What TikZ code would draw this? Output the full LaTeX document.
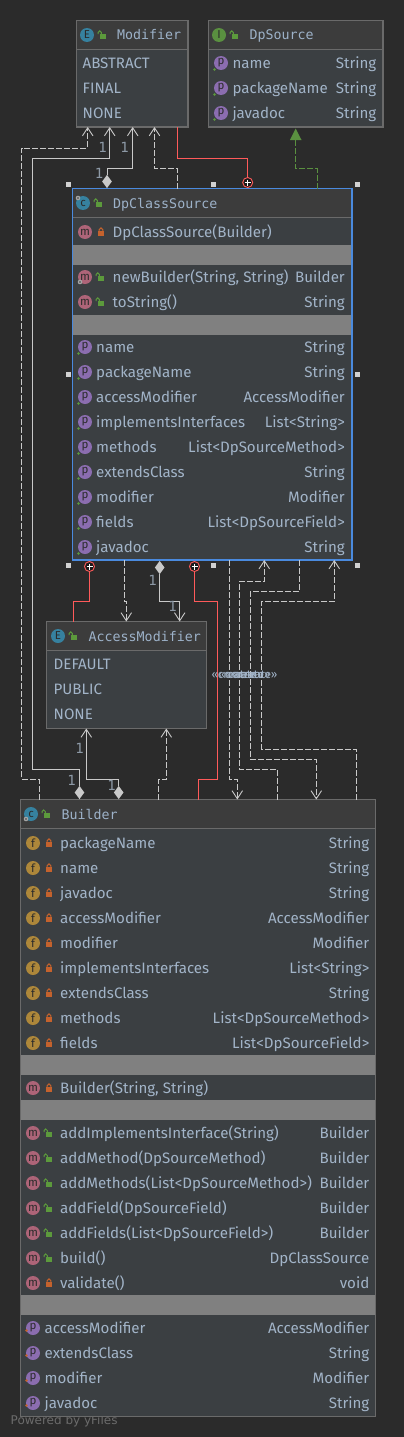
\documentclass[tikz,border=0pt]{standalone}
\usepackage{fontspec}
\setmainfont{Fira Sans}
\newfontfamily\hdfont{DejaVu Sans Mono}
\newfontfamily\powfont{DejaVu Sans}
\usetikzlibrary{arrows.meta,calc}
\definecolor{bgc}{HTML}{2B2B2B}
\definecolor{hdc}{HTML}{3C3C3C}
\definecolor{rowc}{HTML}{3B3F42}
\definecolor{sepc}{HTML}{808080}
\definecolor{brd}{HTML}{6A6A6A}
\definecolor{txtc}{HTML}{A2B4C8}
\definecolor{hdtxt}{HTML}{9DB2C9}
\definecolor{numc}{HTML}{8D99A6}
\definecolor{linec}{HTML}{C9C9C9}
\definecolor{redc}{HTML}{FF5A5A}
\definecolor{grnc}{HTML}{5A9040}
\definecolor{selc}{HTML}{4A8ADE}
\definecolor{tealc}{HTML}{36819F}
\definecolor{purc}{HTML}{8B6DB0}
\definecolor{pinkc}{HTML}{AD6478}
\definecolor{goldc}{HTML}{AD873A}
\definecolor{lockg}{HTML}{5C9A3C}
\definecolor{lockr}{HTML}{C4622D}
\newcounter{nn}
\tikzset{
  boxn/.style={draw=brd,line width=1.2pt,inner sep=0pt,outer sep=0pt,anchor=north west},
  selbox/.style={draw=selc,line width=1.2pt,inner sep=0pt,outer sep=0pt,anchor=north west},
  rowtxt/.style={inner sep=0pt,text=txtc,font=\fontsize{15.1}{16}\selectfont},
  hdtxtn/.style={inner sep=0pt,text=hdtxt,font=\hdfont\fontsize{13.3}{14}\selectfont},
  icotxt/.style={inner sep=0pt,text=bgc,font=\fontsize{11.5}{11}\selectfont},
  numl/.style={inner sep=0pt,text=numc,font=\hdfont\fontsize{14}{14}\selectfont},
  crl/.style={inner sep=0pt,text=txtc,font=\fontsize{11.5}{12}\selectfont},
  rel/.style={line width=0.9pt,draw=linec},
  dsh/.style={rel,dash pattern=on 6pt off 2pt},
  arr/.style={-{Straight Barb[length=8pt,width=10.5pt,line width=0.9pt]}},
  redl/.style={line width=1pt,draw=redc},
  grnl/.style={line width=0.9pt,draw=grnc,dash pattern=on 6pt off 2pt},
  dia/.style={fill=linec,draw=none},
  handle/.style={fill=linec!85!white,draw=none}
}
\newcommand{\rowl}[3]{\stepcounter{nn}\node[rowtxt,anchor=base west] (n\arabic{nn}) at (#2,#1+5) {#3};}
\newcommand{\rowr}[3]{\stepcounter{nn}\node[rowtxt,anchor=base east] (n\arabic{nn}) at (#2,#1+5) {#3};}
\newcommand{\head}[2]{\stepcounter{nn}\node[hdtxtn,anchor=base west] (n\arabic{nn}) at (#1) {#2};}
\newcommand{\ico}[4]{\fill[#3] (#1,#2) circle (7); \stepcounter{nn}\node[icotxt] (n\arabic{nn}) at (#1,#2) {#4};}
\newcommand{\lockc}[2]{%
  \fill[lockr] (#1-3.2,#2-1) rectangle (#1+3.2,#2+4.2);
  \draw[lockr,line width=1pt] (#1-1.8,#2-1) -- (#1-1.8,#2-2.4) arc[start angle=180,end angle=360,radius=1.8] -- (#1+1.8,#2-1);}
\newcommand{\locko}[2]{%
  \fill[lockg] (#1-2.2,#2-1) rectangle (#1+4.3,#2+4.2);
  \draw[lockg,line width=1pt] (#1-4,#2-0.8) -- (#1-4,#2-2.4) arc[start angle=180,end angle=360,radius=1.7] -- (#1-0.6,#2-1);}
\newcommand{\gear}[2]{\fill[gray!70] (#1,#2) circle (2.3); \fill[hdc] (#1,#2) circle (0.8);}
\newcommand{\pub}[2]{\fill[lockg] (#1,#2) circle (1.4);}
\newcommand{\prv}[2]{\fill[lockr] (#1,#2) circle (1.4);}
\newcommand{\diam}[2]{\fill[dia] (#1,#2-6.6) -- (#1+4.8,#2) -- (#1,#2+6.6) -- (#1-4.8,#2) -- cycle;}
\newcommand{\plus}[2]{\fill[bgc!60!black] (#1,#2) circle (4.8); \draw[redc,line width=0.9pt] (#1,#2) circle (5);
  \draw[white,line width=0.9pt] (#1-3,#2) -- (#1+3,#2) (#1,#2-3) -- (#1,#2+3);}
\newcommand{\hnd}[2]{\fill[handle] (#1-2.5,#2-2.5) rectangle (#1+2.5,#2+2.5);}
\newcommand{\shell}[6]{%
  \fill[rowc] (#2,#3) rectangle (#4,#5);
  \fill[hdc] (#2,#3) rectangle (#4,#6);
  \draw[brd,line width=1pt] (#2,#6) -- (#4,#6);
  \node[minimum width={#4-#2},minimum height={#5-#3},boxn] (#1) at (#2,#3) {};}
\begin{document}
\begin{tikzpicture}[x=1pt,y=-1pt]
\useasboundingbox (0,0) rectangle (404,1437);
\fill[bgc] (0,0) rectangle (404,1437);
\node[inner sep=0pt,anchor=base west,text=bgc!70!white,font=\powfont\fontsize{12}{12}\selectfont] (powered) at (10.5,1424.5) {Powered by yFiles};
% Modifier
\shell{modifier}{76.5}{20.5}{188}{127}{49.5}
\ico{87}{35}{tealc}{E}\locko{102}{35}\head{117,40}{Modifier}
\rowl{63}{82.5}{ABSTRACT}\rowl{88}{82.5}{FINAL}\rowl{113}{82.5}{NONE}
% DpSource
\shell{dpsource}{208.5}{20.5}{383}{127}{49.5}
\ico{219}{35}{grnc}{I}\locko{234}{35}\head{249.5,40}{DpSource}
\foreach \yy/\aa in {63/name,88/packageName,113/javadoc}{
  \ico{221}{\yy}{purc}{p}\pub{214.5}{\yy+6.5}\rowl{\yy}{232.3}{\aa}\rowr{\yy}{376.5}{String}}
% DpClassSource
\shell{dpclass}{72.5}{188.5}{352}{560}{217.5}
\fill[sepc] (73,244.5) rectangle (351.5,264.5);
\fill[sepc] (73,314.5) rectangle (351.5,334.5);
\node[selbox,minimum width=279.5pt,minimum height=371.5pt] (dpclasssel) at (72.5,188.5) {};
\ico{83}{203}{tealc}{c}\gear{78}{198}\locko{98}{203}\head{113,208}{DpClassSource}
\ico{85}{232}{pinkc}{m}\lockc{101}{232}\rowl{232}{112.5}{DpClassSource(Builder)}
\ico{85}{277}{pinkc}{m}\gear{80}{282}\locko{100}{277}\rowl{277}{112.5}{newBuilder(String, String)}\rowr{277}{345}{Builder}
\ico{85}{302}{pinkc}{m}\locko{100}{302}\rowl{302}{112.5}{toString()}\rowr{302}{345}{String}
\foreach \yy/\aa/\bb in {347/name/String,372/packageName/String,397/accessModifier/AccessModifier,422/implementsInterfaces/List<String>,447/methods/List<DpSourceMethod>,472/extendsClass/String,497/modifier/Modifier,522/fields/List<DpSourceField>,547/javadoc/String}{
  \ico{85}{\yy}{purc}{p}\pub{78.5}{\yy+6.5}\rowl{\yy}{96}{\aa}\rowr{\yy}{345}{\bb}}
% AccessModifier
\shell{access}{46.5}{621.5}{206.5}{728.5}{650.5}
\ico{58}{636}{tealc}{E}\locko{73}{636}\head{88.5,641}{AccessModifier}
\rowl{664}{53.5}{DEFAULT}\rowl{689}{53.5}{PUBLIC}\rowl{714}{53.5}{NONE}
% Builder
\shell{builder}{20.5}{799.5}{375.5}{1416.5}{828.5}
\fill[sepc] (21,1055) rectangle (375,1075);
\fill[sepc] (21,1100) rectangle (375,1120);
\fill[sepc] (21,1295) rectangle (375,1315);
\ico{31}{814}{tealc}{c}\gear{26}{819}\locko{46}{814}\head{61.5,819}{Builder}
\foreach \yy/\aa/\bb in {843/packageName/String,868/name/String,893/javadoc/String,918/accessModifier/AccessModifier,943/modifier/Modifier,968/implementsInterfaces/List<String>,993/extendsClass/String,1018/methods/List<DpSourceMethod>,1043/fields/List<DpSourceField>}{
  \ico{33}{\yy}{goldc}{f}\lockc{49}{\yy}\rowl{\yy}{60}{\aa}\rowr{\yy}{369.5}{\bb}}
\ico{33}{1088}{pinkc}{m}\lockc{49}{1088}\rowl{1088}{60}{Builder(String, String)}
\foreach \yy/\aa/\bb in {1133/addImplementsInterface(String)/Builder,1158/addMethod(DpSourceMethod)/Builder,1183/addMethods(List<DpSourceMethod>)/Builder,1208/addField(DpSourceField)/Builder,1233/addFields(List<DpSourceField>)/Builder,1258/build()/DpClassSource}{
  \ico{33}{\yy}{pinkc}{m}\locko{48}{\yy}\rowl{\yy}{60}{\aa}\rowr{\yy}{369.5}{\bb}}
\ico{33}{1283}{pinkc}{m}\lockc{49}{1283}\rowl{1283}{60}{validate()}\rowr{1283}{369.5}{void}
\foreach \yy/\aa/\bb in {1328/accessModifier/AccessModifier,1353/extendsClass/String,1378/modifier/Modifier,1403/javadoc/String}{
  \ico{33}{\yy}{purc}{p}\prv{26.5}{\yy+2.5}\rowl{\yy}{44.5}{\aa}\rowr{\yy}{369.5}{\bb}}
% connectors
\draw[dsh,arr] ([xshift=19pt]builder.north west) -- (39.5,779.3) -- (21.7,779.3) -- (21.7,148) -- (87.7,148) -- ([xshift=11.2pt]modifier.south west);
\draw[rel,arr] (79.5,786) -- (79.5,769.3) -- (32.5,769.3) -- (32.5,158.5) -- (109.7,158.5) -- ([xshift=33.2pt]modifier.south west);
\draw[rel,arr] (107,175) -- (107,168.5) -- (132.7,168.5) -- ([xshift=56.2pt]modifier.south west);
\draw[dsh,arr] ([xshift=105.2pt]dpclass.north west) -- (177.7,168.5) -- (154.5,168.5) -- ([xshift=78pt]modifier.south west);
\draw[redl] ([xshift=100.8pt]modifier.south west) -- (177.3,158.5) -- (247.7,158.5) -- (247.7,182);
\draw[grnl] ([xshift=244.8pt]dpclass.north west) -- (317.3,168.5) -- (295.7,168.5) -- (295.7,140);
\fill[grnc] (295.7,128.5) -- (301.5,140) -- (289.9,140) -- cycle;
\draw[redl] (89.5,570) -- (89.5,601.3) -- (73.3,601.3) -- ([xshift=26.8pt]access.north west);
\draw[dsh,arr] ([xshift=52.2pt]dpclass.south west) -- (124.7,601.3) -- (126.3,601.3) -- ([xshift=79.8pt]access.north west);
\draw[rel,arr] (159.7,574) -- (159.7,601.3) -- (179.7,601.3) -- ([xshift=133.2pt]access.north west);
\draw[redl] (194.5,570) -- (194.5,601.3) -- (217.7,601.3) -- (217.7,779.3) -- (198.3,779.3) -- ([xshift=177.8pt]builder.north west);
\draw[dsh,arr] ([xshift=156.8pt]dpclass.south west) -- (229.3,779.3) -- (237.3,779.3) -- ([xshift=216.8pt]builder.north west);
\draw[dsh,arr] ([xshift=256.8pt]builder.north west) -- (277.3,769.3) -- (239.3,769.3) -- (239.3,581.3) -- (264.3,581.3) -- ([xshift=191.8pt]dpclass.south west);
\draw[dsh,arr] ([xshift=226.8pt]dpclass.south west) -- (299.3,591.3) -- (250.3,591.3) -- (250.3,759.3) -- (316.3,759.3) -- ([xshift=295.8pt]builder.north west);
\draw[dsh,arr] ([xshift=335.8pt]builder.north west) -- (356.3,749.3) -- (261.7,749.3) -- (261.7,601.3) -- (334.3,601.3) -- ([xshift=261.8pt]dpclass.south west);
\draw[rel,arr] (118.7,786) -- (118.7,779.3) -- (86.3,779.3) -- ([xshift=39.8pt]access.south west);
\draw[dsh,arr] ([xshift=137.8pt]builder.north west) -- (158.3,779.3) -- (166.3,779.3) -- ([xshift=119.8pt]access.south west);
% diamonds and plus
\diam{107}{181.5}\diam{159.7}{567.5}\diam{79.5}{792.5}\diam{118.7}{792.5}
\plus{247.7}{182.5}\plus{89.5}{566.5}\plus{194.5}{566.5}
% handles
\hnd{68.5}{184.5}\hnd{213}{184.5}\hnd{357}{184.5}\hnd{68.5}{374}\hnd{357}{374}\hnd{68.5}{565.5}\hnd{213}{565.5}\hnd{357}{565.5}
% multiplicities
\node[numl] (m1) at (102.5,147) {1};
\node[numl] (m2) at (124.5,147) {1};
\node[numl] (m3) at (99,173.5) {1};
\node[numl] (m4) at (152.5,580) {1};
\node[numl] (m5) at (172.5,606.5) {1};
\node[numl] (m6) at (79.5,748) {1};
\node[numl] (m7) at (71.5,780) {1};
\node[numl] (m8) at (111.5,785) {1};
% create labels
\node[crl] (c1) at (234,675) {«create»};
\node[crl] (c2) at (241,675) {«create»};
\node[crl] (c3) at (248,675) {«create»};
\node[crl] (c4) at (255,675) {«create»};
\end{tikzpicture}
\end{document}
